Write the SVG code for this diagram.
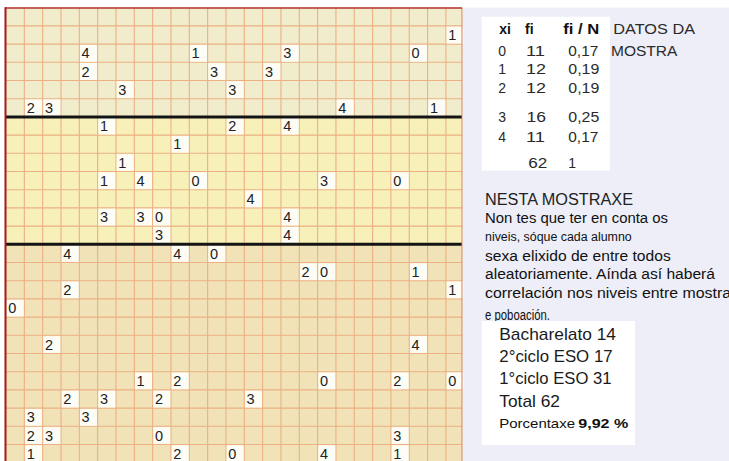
<svg xmlns="http://www.w3.org/2000/svg" xmlns:xlink="http://www.w3.org/1999/xlink" width="729" height="461" viewBox="0 0 729 461">
<style>
.n{font-family:"Liberation Sans",Arial,sans-serif;font-size:14.5px;fill:#222}
.t{font-family:"Liberation Sans",Arial,sans-serif;font-size:14px;fill:#2a2a2a}
.tb{font-family:"Liberation Sans",Arial,sans-serif;font-size:14px;font-weight:bold;fill:#111}
.p{font-family:"Liberation Sans",Arial,sans-serif;font-size:14px;fill:#111}
.h{font-family:"Liberation Sans",Arial,sans-serif;font-size:16px;fill:#222}
.b{font-family:"Liberation Sans",Arial,sans-serif;font-size:17px;fill:#1a1a1a}
.s{font-family:"Liberation Sans",Arial,sans-serif;font-size:13px;fill:#111}
.grid{fill:none;stroke:#ECB083;stroke-width:1.1}
</style>
<defs>
<rect id="wb" x="0.7" y="0.8" width="17" height="16.8" fill="#FDFDF6"/>
</defs>
<rect x="0" y="0" width="729" height="461" fill="#ffffff"/>
<rect x="463" y="7.7" width="266" height="453.3" fill="#EDEEF8"/>
<g id="grid">
<rect x="6" y="7.7" width="456" height="109.2" fill="#F1EDCC"/>
<rect x="6" y="116.9" width="456" height="127.4" fill="#F7F0B8"/>
<rect x="6" y="244.3" width="456" height="216.7" fill="#F1E2B8"/>
<path class="grid" d="M24.33 7.7V461M42.66 7.7V461M60.99 7.7V461M79.32 7.7V461M97.65 7.7V461M115.98 7.7V461M134.31 7.7V461M152.64 7.7V461M170.97 7.7V461M189.3 7.7V461M207.63 7.7V461M225.96 7.7V461M244.29 7.7V461M262.62 7.7V461M280.95 7.7V461M299.28 7.7V461M317.61 7.7V461M335.94 7.7V461M354.27 7.7V461M372.6 7.7V461M390.93 7.7V461M409.26 7.7V461M427.59 7.7V461M445.92 7.7V461"/>
<path class="grid" d="M6 25.9H462M6 44.1H462M6 62.3H462M6 80.5H462M6 98.7H462M6 135.1H462M6 153.3H462M6 171.5H462M6 189.7H462M6 207.9H462M6 226.1H462M6 262.5H462M6 280.7H462M6 298.9H462M6 317.1H462M6 335.3H462M6 353.5H462M6 371.7H462M6 389.9H462M6 408.1H462M6 426.3H462M6 444.5H462"/>
</g>
<g id="cells">
<g id="c24-1" transform="translate(445.92,25.9)"><use xlink:href="#wb"/><text class="n" x="2.3" y="14.3">1</text></g>
<g id="c4-2" transform="translate(79.32,44.1)"><use xlink:href="#wb"/><text class="n" x="2.3" y="14.3">4</text></g>
<g id="c10-2" transform="translate(189.3,44.1)"><use xlink:href="#wb"/><text class="n" x="2.3" y="14.3">1</text></g>
<g id="c15-2" transform="translate(280.95,44.1)"><use xlink:href="#wb"/><text class="n" x="2.3" y="14.3">3</text></g>
<g id="c22-2" transform="translate(409.26,44.1)"><use xlink:href="#wb"/><text class="n" x="2.3" y="14.3">0</text></g>
<g id="c4-3" transform="translate(79.32,62.3)"><use xlink:href="#wb"/><text class="n" x="2.3" y="14.3">2</text></g>
<g id="c11-3" transform="translate(207.63,62.3)"><use xlink:href="#wb"/><text class="n" x="2.3" y="14.3">3</text></g>
<g id="c14-3" transform="translate(262.62,62.3)"><use xlink:href="#wb"/><text class="n" x="2.3" y="14.3">3</text></g>
<g id="c6-4" transform="translate(115.98,80.5)"><use xlink:href="#wb"/><text class="n" x="2.3" y="14.3">3</text></g>
<g id="c12-4" transform="translate(225.96,80.5)"><use xlink:href="#wb"/><text class="n" x="2.3" y="14.3">3</text></g>
<g id="c1-5" transform="translate(24.33,98.7)"><use xlink:href="#wb"/><text class="n" x="2.3" y="14.3">2</text></g>
<g id="c2-5" transform="translate(42.66,98.7)"><use xlink:href="#wb"/><text class="n" x="2.3" y="14.3">3</text></g>
<g id="c18-5" transform="translate(335.94,98.7)"><use xlink:href="#wb"/><text class="n" x="2.3" y="14.3">4</text></g>
<g id="c23-5" transform="translate(427.59,98.7)"><use xlink:href="#wb"/><text class="n" x="2.3" y="14.3">1</text></g>
<g id="c5-6" transform="translate(97.65,116.9)"><use xlink:href="#wb"/><text class="n" x="2.3" y="14.3">1</text></g>
<g id="c12-6" transform="translate(225.96,116.9)"><use xlink:href="#wb"/><text class="n" x="2.3" y="14.3">2</text></g>
<g id="c15-6" transform="translate(280.95,116.9)"><use xlink:href="#wb"/><text class="n" x="2.3" y="14.3">4</text></g>
<g id="c9-7" transform="translate(170.97,135.1)"><use xlink:href="#wb"/><text class="n" x="2.3" y="14.3">1</text></g>
<g id="c6-8" transform="translate(115.98,153.3)"><use xlink:href="#wb"/><text class="n" x="2.3" y="14.3">1</text></g>
<g id="c5-9" transform="translate(97.65,171.5)"><use xlink:href="#wb"/><text class="n" x="2.3" y="14.3">1</text></g>
<g id="c7-9" transform="translate(134.31,171.5)"><use xlink:href="#wb"/><text class="n" x="2.3" y="14.3">4</text></g>
<g id="c10-9" transform="translate(189.3,171.5)"><use xlink:href="#wb"/><text class="n" x="2.3" y="14.3">0</text></g>
<g id="c17-9" transform="translate(317.61,171.5)"><use xlink:href="#wb"/><text class="n" x="2.3" y="14.3">3</text></g>
<g id="c21-9" transform="translate(390.93,171.5)"><use xlink:href="#wb"/><text class="n" x="2.3" y="14.3">0</text></g>
<g id="c13-10" transform="translate(244.29,189.7)"><use xlink:href="#wb"/><text class="n" x="2.3" y="14.3">4</text></g>
<g id="c5-11" transform="translate(97.65,207.9)"><use xlink:href="#wb"/><text class="n" x="2.3" y="14.3">3</text></g>
<g id="c7-11" transform="translate(134.31,207.9)"><use xlink:href="#wb"/><text class="n" x="2.3" y="14.3">3</text></g>
<g id="c8-11" transform="translate(152.64,207.9)"><use xlink:href="#wb"/><text class="n" x="2.3" y="14.3">0</text></g>
<g id="c15-11" transform="translate(280.95,207.9)"><use xlink:href="#wb"/><text class="n" x="2.3" y="14.3">4</text></g>
<g id="c8-12" transform="translate(152.64,226.1)"><use xlink:href="#wb"/><text class="n" x="2.3" y="14.3">3</text></g>
<g id="c15-12" transform="translate(280.95,226.1)"><use xlink:href="#wb"/><text class="n" x="2.3" y="14.3">4</text></g>
<g id="c3-13" transform="translate(60.99,244.3)"><use xlink:href="#wb"/><text class="n" x="2.3" y="14.3">4</text></g>
<g id="c9-13" transform="translate(170.97,244.3)"><use xlink:href="#wb"/><text class="n" x="2.3" y="14.3">4</text></g>
<g id="c11-13" transform="translate(207.63,244.3)"><use xlink:href="#wb"/><text class="n" x="2.3" y="14.3">0</text></g>
<g id="c16-14" transform="translate(299.28,262.5)"><use xlink:href="#wb"/><text class="n" x="2.3" y="14.3">2</text></g>
<g id="c17-14" transform="translate(317.61,262.5)"><use xlink:href="#wb"/><text class="n" x="2.3" y="14.3">0</text></g>
<g id="c22-14" transform="translate(409.26,262.5)"><use xlink:href="#wb"/><text class="n" x="2.3" y="14.3">1</text></g>
<g id="c3-15" transform="translate(60.99,280.7)"><use xlink:href="#wb"/><text class="n" x="2.3" y="14.3">2</text></g>
<g id="c24-15" transform="translate(445.92,280.7)"><use xlink:href="#wb"/><text class="n" x="2.3" y="14.3">1</text></g>
<g id="c0-16" transform="translate(6,298.9)"><use xlink:href="#wb"/><text class="n" x="2.3" y="14.3">0</text></g>
<g id="c2-18" transform="translate(42.66,335.3)"><use xlink:href="#wb"/><text class="n" x="2.3" y="14.3">2</text></g>
<g id="c22-18" transform="translate(409.26,335.3)"><use xlink:href="#wb"/><text class="n" x="2.3" y="14.3">4</text></g>
<g id="c7-20" transform="translate(134.31,371.7)"><use xlink:href="#wb"/><text class="n" x="2.3" y="14.3">1</text></g>
<g id="c9-20" transform="translate(170.97,371.7)"><use xlink:href="#wb"/><text class="n" x="2.3" y="14.3">2</text></g>
<g id="c17-20" transform="translate(317.61,371.7)"><use xlink:href="#wb"/><text class="n" x="2.3" y="14.3">0</text></g>
<g id="c21-20" transform="translate(390.93,371.7)"><use xlink:href="#wb"/><text class="n" x="2.3" y="14.3">2</text></g>
<g id="c24-20" transform="translate(445.92,371.7)"><use xlink:href="#wb"/><text class="n" x="2.3" y="14.3">0</text></g>
<g id="c3-21" transform="translate(60.99,389.9)"><use xlink:href="#wb"/><text class="n" x="2.3" y="14.3">2</text></g>
<g id="c5-21" transform="translate(97.65,389.9)"><use xlink:href="#wb"/><text class="n" x="2.3" y="14.3">3</text></g>
<g id="c8-21" transform="translate(152.64,389.9)"><use xlink:href="#wb"/><text class="n" x="2.3" y="14.3">2</text></g>
<g id="c13-21" transform="translate(244.29,389.9)"><use xlink:href="#wb"/><text class="n" x="2.3" y="14.3">3</text></g>
<g id="c1-22" transform="translate(24.33,408.1)"><use xlink:href="#wb"/><text class="n" x="2.3" y="14.3">3</text></g>
<g id="c4-22" transform="translate(79.32,408.1)"><use xlink:href="#wb"/><text class="n" x="2.3" y="14.3">3</text></g>
<g id="c1-23" transform="translate(24.33,426.3)"><use xlink:href="#wb"/><text class="n" x="2.3" y="14.3">2</text></g>
<g id="c2-23" transform="translate(42.66,426.3)"><use xlink:href="#wb"/><text class="n" x="2.3" y="14.3">3</text></g>
<g id="c8-23" transform="translate(152.64,426.3)"><use xlink:href="#wb"/><text class="n" x="2.3" y="14.3">0</text></g>
<g id="c21-23" transform="translate(390.93,426.3)"><use xlink:href="#wb"/><text class="n" x="2.3" y="14.3">3</text></g>
<g id="c1-24" transform="translate(24.33,444.5)"><use xlink:href="#wb"/><text class="n" x="2.3" y="14.3">1</text></g>
<g id="c9-24" transform="translate(170.97,444.5)"><use xlink:href="#wb"/><text class="n" x="2.3" y="14.3">2</text></g>
<g id="c12-24" transform="translate(225.96,444.5)"><use xlink:href="#wb"/><text class="n" x="2.3" y="14.3">0</text></g>
<g id="c17-24" transform="translate(317.61,444.5)"><use xlink:href="#wb"/><text class="n" x="2.3" y="14.3">4</text></g>
<g id="c21-24" transform="translate(390.93,444.5)"><use xlink:href="#wb"/><text class="n" x="2.3" y="14.3">1</text></g>
</g>
<g id="borders">
<path d="M6 116.9H462M6 244.3H462" stroke="#141414" stroke-width="3" fill="none"/>
<path d="M462 7.7V461" stroke="#D08060" stroke-width="1" fill="none"/>
<path d="M5 7.9H462" stroke="#B83030" stroke-width="1.5" fill="none"/>
<path d="M5.5 7.2V461" stroke="#A81818" stroke-width="2" fill="none"/>
</g>
<g id="table">
<rect x="481.7" y="16.7" width="128.3" height="154" fill="#ffffff"/>
<text class="tb" x="499.3" y="34.3">xi</text>
<text class="tb" x="525" y="34.3">fi</text>
<text class="tb" x="563.3" y="34.3" textLength="36" lengthAdjust="spacingAndGlyphs">fi / N</text>
<text class="t" x="613.3" y="34.3" textLength="81.7" lengthAdjust="spacingAndGlyphs">DATOS DA</text>
<text class="t" x="498.3" y="55.7">0</text>
<text class="t" x="526" y="55.7" textLength="19" lengthAdjust="spacingAndGlyphs">11</text>
<text class="t" x="568.3" y="55.7" textLength="30" lengthAdjust="spacingAndGlyphs">0,17</text>
<text class="t" x="611" y="55.7" textLength="66.3" lengthAdjust="spacingAndGlyphs">MOSTRA</text>
<text class="t" x="498.3" y="74">1</text>
<text class="t" x="526" y="74" textLength="20" lengthAdjust="spacingAndGlyphs">12</text>
<text class="t" x="568.3" y="74" textLength="31" lengthAdjust="spacingAndGlyphs">0,19</text>
<text class="t" x="498.3" y="92.7">2</text>
<text class="t" x="526" y="92.7" textLength="20" lengthAdjust="spacingAndGlyphs">12</text>
<text class="t" x="568.3" y="92.7" textLength="31" lengthAdjust="spacingAndGlyphs">0,19</text>
<text class="t" x="498.3" y="121.7">3</text>
<text class="t" x="526.5" y="121.7" textLength="19.5" lengthAdjust="spacingAndGlyphs">16</text>
<text class="t" x="568.3" y="121.7" textLength="31" lengthAdjust="spacingAndGlyphs">0,25</text>
<text class="t" x="498.3" y="142.3">4</text>
<text class="t" x="526" y="142.3" textLength="19" lengthAdjust="spacingAndGlyphs">11</text>
<text class="t" x="568.3" y="142.3" textLength="30" lengthAdjust="spacingAndGlyphs">0,17</text>
<text class="t" x="528.3" y="167.7" textLength="19" lengthAdjust="spacingAndGlyphs">62</text>
<text class="t" x="568.3" y="167.7">1</text>
</g>
<g id="note">
<text class="h" x="485" y="205" textLength="148" lengthAdjust="spacingAndGlyphs">NESTA MOSTRAXE</text>
<text class="p" x="485" y="223.3" textLength="183" lengthAdjust="spacingAndGlyphs">Non tes que ter en conta os</text>
<text class="p" x="485" y="240.7" style="font-size:12.5px" textLength="146.7" lengthAdjust="spacingAndGlyphs">niveis, sóque cada alumno</text>
<text class="p" x="485" y="260.7" textLength="185.7" lengthAdjust="spacingAndGlyphs">sexa elixido de entre todos</text>
<text class="p" x="485" y="279.3" textLength="230" lengthAdjust="spacingAndGlyphs">aleatoriamente. Aínda así haberá</text>
<text class="p" x="485" y="297.7" textLength="246" lengthAdjust="spacingAndGlyphs">correlación nos niveis entre mostra</text>
<text class="p" x="485" y="319.5" textLength="65" lengthAdjust="spacingAndGlyphs">e poboación.</text>
</g>
<g id="summary">
<rect x="481.7" y="321" width="153.3" height="124" fill="#ffffff"/>
<text class="b" x="499.3" y="340" textLength="116.7" lengthAdjust="spacingAndGlyphs">Bacharelato 14</text>
<text class="b" x="499.3" y="361.7" textLength="113.3" lengthAdjust="spacingAndGlyphs">2°ciclo ESO 17</text>
<text class="b" x="499.3" y="384" textLength="112.3" lengthAdjust="spacingAndGlyphs">1°ciclo ESO 31</text>
<text class="b" x="499.3" y="406.7" textLength="60.7" lengthAdjust="spacingAndGlyphs">Total 62</text>
<text class="s" x="499.3" y="428" textLength="75.7" lengthAdjust="spacingAndGlyphs">Porcentaxe</text>
<text class="s" x="578.3" y="428" style="font-weight:bold" textLength="50" lengthAdjust="spacingAndGlyphs">9,92 %</text>
</g>
</svg>
